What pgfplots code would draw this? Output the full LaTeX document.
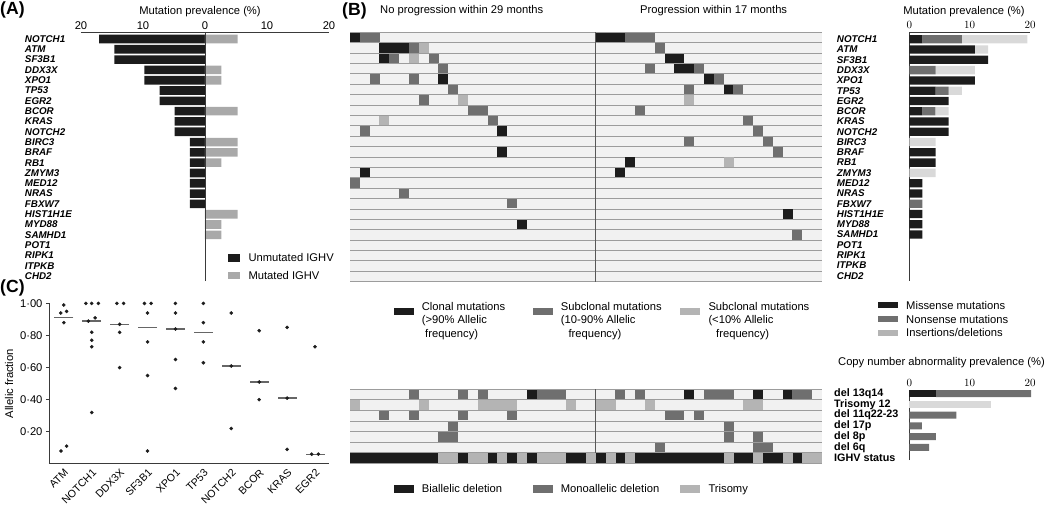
\documentclass[border=0pt]{standalone}
\usepackage{fontspec}
\setmainfont{Liberation Sans}
\usepackage{pgfplots}
\pgfplotsset{compat=1.18}
\definecolor{cblk}{HTML}{1C1C1C}
\definecolor{cdrk}{HTML}{6F6F6F}
\definecolor{clgt}{HTML}{B4B4B4}
\definecolor{cbg}{HTML}{F1F1F1}
\definecolor{cln}{HTML}{9C9C9C}
\definecolor{cagr}{HTML}{A9A9A9}
\definecolor{cind}{HTML}{D9D9D9}
\definecolor{caxis}{HTML}{3A3A3A}
\definecolor{cmed}{HTML}{666666}

\pgfdeclareplotmark{cell}{\pgfpathrectangle{\pgfqpoint{-4.95pt}{-4.7pt}}{\pgfqpoint{9.9pt}{9.4pt}}\pgfusepathqfill}

\newcommand\ft{\fontsize{11.2}{13.7}\selectfont}
\newcommand\fx{\fontsize{10.6}{12}\selectfont}
\newcommand\fg{\fontsize{9.8}{11}\selectfont\bfseries\itshape}
\newcommand\fb{\fontsize{10.8}{12}\selectfont\bfseries}
\newcommand\fp{\fontsize{17.6}{20}\selectfont\bfseries}
\newcommand\lt[3]{\node[anchor=base west, font=\ft, inner sep=0pt] at (#1pt,-#2pt) {#3};}

\pgfplotsset{
  genelabels/.style={yticklabels={CHD2,ITPKB,RIPK1,POT1,SAMHD1,MYD88,HIST1H1E,FBXW7,NRAS,MED12,ZMYM3,RB1,BRAF,BIRC3,NOTCH2,KRAS,BCOR,EGR2,TP53,XPO1,DDX3X,SF3B1,ATM,NOTCH1}},
  heat/.style={scale only axis, anchor=north west, width=472pt, xmin=0.5, xmax=48.5,
    axis line style={draw=none}, tick style={draw=none}, xtick=\empty,
    yticklabels={}, yticklabel style={opacity=0},
    ymajorgrids, major grid style={color=cln, line width=0.9pt},
    axis background/.style={fill=cbg}, clip=false},
}

\begin{document}
\begin{tikzpicture}
\useasboundingbox (0pt,0pt) rectangle (1050pt,-506pt);

% ---------------- Panel A ----------------
\begin{axis}[
  at={(81pt,-32.8pt)}, anchor=north west, scale only axis, width=248pt, height=248.4pt,
  xmin=-20, xmax=20, ymin=0.5, ymax=24.6,
  axis x line*=top, axis y line*=left,
  y axis line style={draw=none}, x axis line style={color=caxis, line width=0.9pt},
  tick style={draw=none},
  xtick={-20,-10,0,10,20}, xticklabels={20,10,0,10,20}, xticklabel style={font=\ft},
  ytick={1,...,24}, genelabels, yticklabel style={font=\fg, anchor=west, xshift=-55.3pt},
  xbar, bar width=8.6pt, clip=false]
\addplot[xbar, bar shift=0pt, fill=cblk, draw=none] coordinates {
(-17.07,24) (-14.63,23) (-14.63,22) (-9.76,21) (-9.76,20) (-7.32,19) (-7.32,18)
(-4.88,17) (-4.88,16) (-4.88,15) (-2.44,14) (-2.44,13) (-2.44,12) (-2.44,11)
(-2.44,10) (-2.44,9) (-2.44,8)};
\addplot[xbar, bar shift=0pt, fill=cagr, draw=none] coordinates {
(5.26,24) (2.63,21) (2.63,20) (5.26,17) (5.26,14) (5.26,13) (2.63,12)
(5.26,7) (2.63,6) (2.63,5)};
\draw[color=caxis, line width=0.9pt] (axis cs:0,0.5) -- (axis cs:0,24.6);
\end{axis}
\node[anchor=base, font=\ft] at (200pt,-14pt) {Mutation prevalence (\%)};
\node[anchor=base west, font=\fp, inner sep=0pt] at (0pt,-14.3pt) {(A)};
\fill[cblk] (228pt,-254pt) rectangle (240pt,-261.7pt);
\lt{248.3}{261.5}{Unmutated IGHV}
\fill[cagr] (228pt,-271.5pt) rectangle (240pt,-279pt);
\lt{248.3}{279}{Mutated IGHV}

% ---------------- Panel C ----------------
\begin{axis}[
  at={(49pt,-303.4pt)}, anchor=north west, scale only axis, width=280pt, height=160.4pt,
  xmin=-0.53, xmax=9.5, ymin=0, ymax=1,
  axis x line*=bottom, axis y line*=left,
  axis line style={color=caxis, line width=0.8pt},
  xtick={0,...,9}, xticklabels={ATM,NOTCH1,DDX3X,SF3B1,XPO1,TP53,NOTCH2,BCOR,KRAS,EGR2},
  xticklabel style={font=\fx, rotate=45, anchor=north east, inner sep=1pt},
  xtick style={draw=none},
  ytick={0.2,0.4,0.6,0.8,1}, yticklabels={0·20,0·40,0·60,0·80,1·00},
  yticklabel style={font=\ft},
  ytick style={color=caxis, line width=0.8pt}, tick align=outside, major tick length=3pt,
  ylabel={Allelic fraction}, ylabel style={font=\ft},
  clip=false]
\addplot[only marks, mark=-, mark size=9.5pt, color=cmed, mark options={line width=1.2pt}] coordinates {
(0,0.91) (1,0.89) (2,0.87) (3,0.85) (4,0.84) (5,0.82) (6,0.61) (7,0.51) (8,0.41) (9,0.06)};
\addplot[only marks, mark=*, mark size=1.6pt, color=cblk] coordinates {
(0,0.99) (-0.11,0.94) (0.10,0.95) (0,0.88) (-0.10,0.08) (0.10,0.11)
(0.79,1.00) (1,1.00) (1.24,1.00) (1.12,0.91) (0.88,0.89) (1,0.82) (1,0.77) (1,0.73) (1,0.32)
(1.90,1.00) (2.14,1.00) (2,0.87) (2,0.82) (2,0.60)
(2.89,1.00) (3.13,1.00) (3,0.94) (3,0.76) (3,0.55) (3,0.08)
(4,1.00) (4,0.94) (4,0.84) (4,0.65) (4,0.47)
(5,1.00) (5,0.88) (5,0.76) (5,0.63)
(6,0.94) (6,0.61) (6,0.22)
(7,0.83) (7,0.51) (7,0.40)
(8,0.85) (8,0.41) (8,0.09)
(9,0.73) (8.88,0.06) (9.12,0.06)};
\end{axis}
\node[anchor=base west, font=\fp, inner sep=0pt] at (0pt,-292.7pt) {(C)};

% ---------------- Panel B: mutation heatmap ----------------
\begin{axis}[heat, at={(350pt,-32.3pt)}, height=249.4pt, ymin=0.5, ymax=24.5,
  ytick={0.5,1.5,...,24.5}]
\addplot[only marks, mark=cell, color=cblk] coordinates {
(1,24) (26,24) (27,24) (28,24) (4,23) (5,23) (6,23) (4,22) (33,22) (34,22)
(34,21) (35,21) (10,20) (37,20) (39,19) (16,15) (16,13) (29,12) (2,11) (28,11)
(45,7) (18,6)};
\addplot[only marks, mark=cell, color=cdrk] coordinates {
(2,24) (3,24) (29,24) (30,24) (31,24) (7,23) (32,23) (5,22) (9,22)
(10,21) (31,21) (36,21) (3,20) (7,20) (38,20) (11,19) (35,19) (40,19)
(8,18) (13,17) (14,17) (30,17) (15,16) (41,16) (2,15) (42,15)
(35,14) (43,14) (44,13) (1,10) (6,9) (17,8) (46,5)};
\addplot[only marks, mark=cell, color=clgt] coordinates {
(8,23) (7,22) (12,18) (35,18) (4,16) (39,12)};
\draw[color=caxis!85, line width=1.3pt] (axis cs:25.5,0.5) -- (axis cs:25.5,24.5);
\end{axis}
\node[anchor=base west, font=\fp, inner sep=0pt] at (342pt,-15pt) {(B)};
\node[anchor=base west, font=\ft, inner sep=0pt] at (380pt,-13.3pt) {No progression within 29 months};
\node[anchor=base west, font=\ft, inner sep=0pt] at (640pt,-13.3pt) {Progression within 17 months};

% legend clonality
\fill[cblk] (394.3pt,-308.3pt) rectangle (414pt,-315pt);
\lt{421.7}{310}{Clonal mutations}
\lt{421.7}{323.6}{(>90\% Allelic}
\lt{425}{337.2}{frequency)}
\fill[cdrk] (533.3pt,-308.3pt) rectangle (553.3pt,-315pt);
\lt{560.7}{310}{Subclonal mutations}
\lt{560.7}{323.6}{(10-90\% Allelic}
\lt{568.3}{337.2}{frequency)}
\fill[clgt] (680pt,-308.3pt) rectangle (700pt,-315pt);
\lt{708.3}{310}{Subclonal mutations}
\lt{708.3}{323.6}{(<10\% Allelic}
\lt{716}{337.2}{frequency)}

% ---------------- Panel B: CNA heatmap ----------------
\begin{axis}[heat, at={(350pt,-389.3pt)}, height=74pt, ymin=0.5, ymax=7.5,
  ytick={0.5,1.5,...,7.5}]
\addplot[only marks, mark=cell, color=cblk] coordinates {
(19,7) (35,7) (42,7) (45,7)
(1,1) (2,1) (3,1) (4,1) (5,1) (6,1) (7,1) (8,1) (9,1) (12,1) (15,1) (17,1) (19,1)
(23,1) (24,1) (26,1) (28,1) (30,1) (31,1) (32,1) (33,1) (34,1) (35,1) (36,1) (37,1)
(38,1) (40,1) (41,1) (43,1) (44,1) (46,1)};
\addplot[only marks, mark=cell, color=cdrk] coordinates {
(7,7) (12,7) (14,7) (20,7) (21,7) (22,7) (28,7) (30,7) (37,7) (38,7) (39,7) (46,7) (47,7)
(4,5) (7,5) (12,5) (17,5) (33,5) (34,5) (36,5)
(11,4) (39,4) (10,3) (11,3) (39,3) (42,3) (32,2) (42,2) (43,2)};
\addplot[only marks, mark=cell, color=clgt] coordinates {
(1,6) (8,6) (14,6) (15,6) (16,6) (17,6) (23,6) (26,6) (27,6) (31,6) (41,6) (42,6)
(10,1) (11,1) (13,1) (14,1) (16,1) (18,1) (20,1) (21,1) (22,1) (25,1) (27,1) (29,1)
(39,1) (42,1) (45,1) (47,1) (48,1)};
\draw[color=caxis!85, line width=1.3pt] (axis cs:25.5,0.5) -- (axis cs:25.5,7.5);
\end{axis}
\fill[cblk] (394.3pt,-485pt) rectangle (414pt,-492.5pt);
\lt{421.7}{492.8}{Biallelic deletion}
\fill[cdrk] (533.3pt,-485pt) rectangle (553.3pt,-492.5pt);
\lt{560.7}{492.8}{Monoallelic deletion}
\fill[clgt] (680pt,-485pt) rectangle (700pt,-492.5pt);
\lt{708.3}{492.8}{Trisomy}

% ---------------- Right: mutation type bars ----------------
\begin{axis}[
  at={(909.3pt,-32.1pt)}, anchor=north west, scale only axis, width=120.7pt, height=248.7pt,
  xmin=0, xmax=20, ymin=0.5, ymax=24.7,
  axis x line*=top, axis y line*=left,
  axis line style={color=caxis, line width=0.9pt}, tick style={draw=none},
  xtick={0,10,20}, xticklabel style={font=\ft},
  ytick={1,...,24}, genelabels, yticklabel style={font=\fg, anchor=west, xshift=-75.9pt},
  xbar stacked, bar width=8.3pt, clip=false]
\addplot[fill=cblk, draw=none] coordinates {
(0,1) (0,2) (0,3) (0,4) (2.17,5) (2.17,6) (2.17,7) (0,8) (2.17,9) (2.17,10) (0,11) (4.35,12)
(4.35,13) (0,14) (6.52,15) (6.52,16) (2.17,17) (6.52,18) (4.35,19) (10.87,20) (0,21) (13.04,22) (10.87,23) (2.17,24)};
\addplot[fill=cdrk, draw=none] coordinates {
(0,1) (0,2) (0,3) (0,4) (0,5) (0,6) (0,7) (2.17,8) (0,9) (0,10) (0,11) (0,12)
(0,13) (0,14) (0,15) (0,16) (2.17,17) (0,18) (2.17,19) (0,20) (4.35,21) (0,22) (0,23) (6.52,24)};
\addplot[fill=cind, draw=none] coordinates {
(0,1) (0,2) (0,3) (0,4) (0,5) (0,6) (0,7) (0,8) (0,9) (0,10) (4.35,11) (0,12)
(0,13) (4.35,14) (0,15) (0,16) (2.17,17) (0,18) (2.17,19) (0,20) (6.52,21) (0,22) (2.17,23) (10.87,24)};
\end{axis}
\node[anchor=base, font=\ft] at (964pt,-14pt) {Mutation prevalence (\%)};

\fill[cblk] (878.3pt,-301.7pt) rectangle (898.3pt,-307.7pt);
\lt{906}{309.2}{Missense mutations}
\fill[cdrk] (878.3pt,-316pt) rectangle (898.3pt,-322pt);
\lt{906}{323.2}{Nonsense mutations}
\fill[clgt] (878.3pt,-330pt) rectangle (898.3pt,-336pt);
\lt{906}{336.8}{Insertions/deletions}

% ---------------- Right: CNA bars ----------------
\node[anchor=base, font=\ft] at (941.5pt,-365.5pt) {Copy number abnormality prevalence (\%)};
\begin{axis}[
  at={(909.3pt,-390pt)}, anchor=north west, scale only axis, width=120.7pt, height=70.2pt,
  xmin=0, xmax=20, ymin=0.8, ymax=7.33,
  axis x line*=top, axis y line*=left,
  axis line style={color=caxis, line width=0.9pt}, tick style={draw=none},
  xtick={0,10,20}, xticklabel style={font=\ft},
  ytick={1,...,7}, yticklabels={IGHV status,del 6q,del 8p,del 17p,del 11q22-23,Trisomy 12,del 13q14},
  yticklabel style={font=\fb, anchor=west, xshift=-78.6pt},
  xbar stacked, bar width=7pt, clip=false]
\addplot[fill=cblk, draw=none] coordinates {(0,1) (0,2) (0,3) (0,4) (0,5) (0,6) (4.4,7)};
\addplot[fill=cdrk, draw=none] coordinates {(0,1) (3.3,2) (4.4,3) (2.1,4) (7.8,5) (0,6) (15.8,7)};
\addplot[fill=cind, draw=none] coordinates {(0,1) (0,2) (0,3) (0,4) (0,5) (13.5,6) (0,7)};
\end{axis}
\end{tikzpicture}
\end{document}
